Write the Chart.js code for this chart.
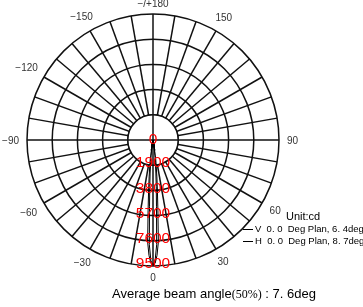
<!DOCTYPE html>
<html>
<head>
<meta charset="utf-8">
<script src="https://cdn.jsdelivr.net/npm/chart.js@4.4.0/dist/chart.umd.min.js"></script>
<style>
  body { margin: 0; background: #fff; }
  #wrap { position: relative; width: 363px; height: 307px; overflow: hidden;
          font-family: "Liberation Sans", Arial, "Noto Sans CJK SC", sans-serif; color: #000; }
  canvas { position: absolute; left: 0; top: 0; }
  .txt { position: absolute; white-space: nowrap; line-height: 1; }
  .ln { display: inline-block; width: 10px; border-top: 1.5px solid #000; vertical-align: middle; margin-right: 2px; }
  .cjk { font-family: "Liberation Serif", "Noto Sans CJK SC", serif; font-size: 12px; }
</style>
</head>
<body>
<div id="wrap">
  <canvas id="polar" width="363" height="307"></canvas>
  <div class="txt" style="left:286px; top:211px; font-size:11px;">Unit:cd</div>
  <div class="txt" style="left:243px; top:224px; font-size:9.5px;"><span class="ln"></span>V&nbsp; 0. 0&nbsp; Deg Plan, 6. 4deg</div>
  <div class="txt" style="left:243px; top:236px; font-size:9.5px;"><span class="ln"></span>H&nbsp; 0. 0&nbsp; Deg Plan, 8. 7deg</div>
  <div class="txt" style="left:112px; top:287px; font-size:13px;">Average beam angle<span class="cjk">(50%)</span> : 7. 6deg</div>
</div>
<script>
const radialTicks = [0, 1900, 3800, 5700, 7600, 9500];

// angles du faisceau (deg) et intensités des deux plans
const beamAngles = [-20, -18, -16, -14, -12, -10, -8, -7, -6, -5, -4, -3, -2, -1, 0,
                    1, 2, 3, 4, 5, 6, 7, 8, 10, 12, 14, 16, 18, 20];
const vPlane = [30, 70, 120, 200, 330, 550, 900, 1200, 1700, 2500, 3500, 5000, 7900, 9100, 9420,
                9100, 7900, 5000, 3500, 2500, 1700, 1200, 900, 550, 330, 200, 120, 70, 30];
const hPlane = [40, 80, 150, 250, 450, 800, 1500, 2000, 2800, 3800, 5300, 7700, 8700, 9300, 9420,
                9300, 8700, 7700, 5300, 3800, 2800, 2000, 1500, 800, 450, 250, 150, 80, 40];

// étiquettes d'angle
const angleLabelDeg = [180, 150, -150, -120, -90, 90, -60, 60, -30, 30, 0];
const angleLabelText = ['\u2212/+180', '150', '\u2212150', '\u2212120', '\u221290', '90',
                        '\u221260', '60', '\u221230', '30', '0'];

const gridColor = '#111';
const gridWidth = 1.5;

// une catégorie par degré ; index i = angle -i (sens horaire depuis le bas)
const degrees = [];
for (let i = 0; i < 360; i++) {
  let d = -i;
  if (d <= -180) d += 360;
  degrees.push(d);
}
function indexOfDeg(d) {
  return ((-d) % 360 + 360) % 360;
}
function planeData(values) {
  return degrees.map(d => {
    const k = beamAngles.indexOf(d);
    return k >= 0 ? values[k] : 0;
  });
}

// disque central, étiquettes d'angle et valeurs rouges
const polarDecor = {
  id: 'polarDecor',
  beforeDatasetsDraw(chart) {
    const s = chart.scales.r;
    const ctx = chart.ctx;
    const r1 = s.getDistanceFromCenterForValue(radialTicks[1]);
    ctx.save();
    ctx.beginPath();
    ctx.arc(s.xCenter, s.yCenter, r1, 0, Math.PI * 2);
    ctx.fillStyle = '#fff';
    ctx.fill();
    ctx.strokeStyle = gridColor;
    ctx.lineWidth = gridWidth;
    ctx.stroke();
    [0, 90, 180, 270].forEach(i => {
      const p = s.getPointPositionForValue(i, radialTicks[1]);
      ctx.beginPath();
      ctx.moveTo(s.xCenter, s.yCenter);
      ctx.lineTo(p.x, p.y);
      ctx.stroke();
    });
    ctx.restore();
  },
  afterDatasetsDraw(chart) {
    const s = chart.scales.r;
    const ctx = chart.ctx;
    ctx.save();
    // étiquettes d'angle
    ctx.font = '10px "Liberation Sans", Arial, sans-serif';
    ctx.fillStyle = '#333';
    ctx.textAlign = 'center';
    ctx.textBaseline = 'middle';
    angleLabelDeg.forEach((d, k) => {
      const a = s.getIndexAngle(indexOfDeg(d)) - Math.PI / 2;
      const w = ctx.measureText(angleLabelText[k]).width;
      const off = s.drawingArea + 6 + Math.abs(Math.cos(a)) * (w / 2 + 2) + Math.abs(Math.sin(a)) * 5;
      ctx.fillText(angleLabelText[k], s.xCenter + Math.cos(a) * off, s.yCenter + Math.sin(a) * off + 1);
    });
    // valeurs en rouge le long de l'axe 0
    ctx.font = '15.5px "Liberation Sans", Arial, sans-serif';
    ctx.fillStyle = '#ff0000';
    radialTicks.forEach(v => {
      const p = s.getPointPositionForValue(indexOfDeg(0), v);
      ctx.fillText(String(v), p.x, v === 0 ? p.y : p.y - 2);
    });
    ctx.restore();
  }
};

const chart = new Chart(document.getElementById('polar'), {
  type: 'radar',
  data: {
    labels: degrees.map(String),
    datasets: [
      { label: 'V', data: planeData(vPlane), borderColor: '#000', borderWidth: 1, fill: false, pointRadius: 0 },
      { label: 'H', data: planeData(hPlane), borderColor: '#000', borderWidth: 1, fill: false, pointRadius: 0 }
    ]
  },
  options: {
    responsive: false,
    animation: false,
    layout: { padding: { left: 27, right: 84, top: 14, bottom: 41 } },
    plugins: { legend: { display: false }, tooltip: { enabled: false } },
    scales: {
      r: {
        startAngle: 180,
        min: 0,
        max: 9500,
        ticks: { stepSize: 1900, display: false },
        pointLabels: { display: false },
        grid: { circular: true, color: gridColor, lineWidth: gridWidth },
        angleLines: {
          color: ctx => (ctx.index % 10 === 0 ? gridColor : 'rgba(0,0,0,0)'),
          lineWidth: gridWidth
        }
      }
    }
  },
  plugins: [polarDecor]
});
</script>
</body>
</html>
